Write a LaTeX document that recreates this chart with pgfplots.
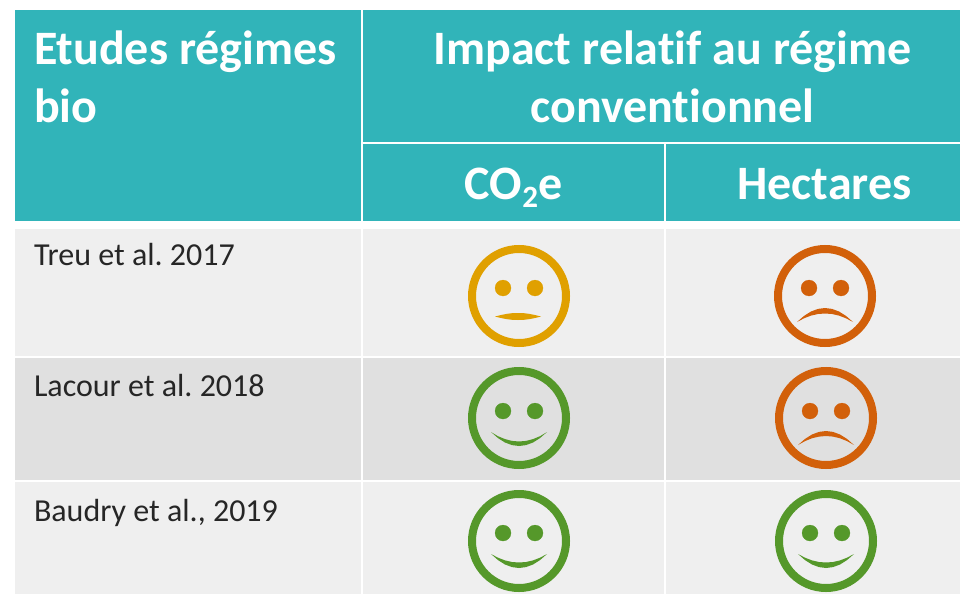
\documentclass[border=0pt]{standalone}
\usepackage{fontspec}
\setmainfont[Ligatures=NoCommon]{Carlito}
\usepackage{pgfplots}
\pgfplotsset{compat=1.18}
\definecolor{teal}{HTML}{31B4B9}
\definecolor{rowa}{HTML}{EFEFEF}
\definecolor{rowb}{HTML}{E0E0E0}
\definecolor{jaune}{HTML}{E0A000}
\definecolor{orange}{HTML}{D2600A}
\definecolor{vert}{HTML}{55982A}
\pgfplotsset{
  cell/.style={fill=#1, draw=none, mark=none, forget plot},
  ring/.style={only marks, mark=o, mark size=47pt, forget plot,
    mark options={draw=#1, line width=8pt, fill=none}},
  eyes/.style={only marks, mark=*, mark size=8pt, forget plot,
    mark options={draw=#1, line width=0.2pt, fill=#1}},
  mouth/.style={fill=#1, draw=none, mark=none, forget plot},
}
\tikzset{
  head/.style={inner sep=0pt, outer sep=0pt, text=white, anchor=base west,
    font=\fontsize{48}{48}\selectfont\bfseries},
  headc/.style={head, anchor=base},
  body/.style={inner sep=0pt, outer sep=0pt, text=black!85, anchor=base west,
    font=\fontsize{32}{32}\selectfont},
}
\begin{document}
\frenchspacing
\begin{tikzpicture}
\begin{axis}[
  width=960pt, height=594pt, scale only axis,
  xmin=0, xmax=960, ymin=0, ymax=594, y dir=reverse,
  hide axis, clip=true,
]
% fond
\addplot[cell=white] coordinates {(0,0) (960,0) (960,594) (0,594)} -- cycle;
% en-tete
\addplot[cell=teal] coordinates {(15,10) (361,10) (361,221) (15,221)} -- cycle;
\addplot[cell=teal] coordinates {(363,10) (960,10) (960,142) (363,142)} -- cycle;
\addplot[cell=teal] coordinates {(363,144) (664,144) (664,221) (363,221)} -- cycle;
\addplot[cell=teal] coordinates {(666,144) (960,144) (960,221) (666,221)} -- cycle;
% lignes
\addplot[cell=rowa] coordinates {(15,229) (361,229) (361,356) (15,356)} -- cycle;
\addplot[cell=rowa] coordinates {(363,229) (664,229) (664,356) (363,356)} -- cycle;
\addplot[cell=rowa] coordinates {(666,229) (960,229) (960,356) (666,356)} -- cycle;
\addplot[cell=rowb] coordinates {(15,358) (361,358) (361,480) (15,480)} -- cycle;
\addplot[cell=rowb] coordinates {(363,358) (664,358) (664,480) (363,480)} -- cycle;
\addplot[cell=rowb] coordinates {(666,358) (960,358) (960,480) (666,480)} -- cycle;
\addplot[cell=rowa] coordinates {(15,482) (361,482) (361,594) (15,594)} -- cycle;
\addplot[cell=rowa] coordinates {(363,482) (664,482) (664,594) (363,594)} -- cycle;
\addplot[cell=rowa] coordinates {(666,482) (960,482) (960,594) (666,594)} -- cycle;
% visages : contour
\addplot[ring=jaune] coordinates {(519,296)};
\addplot[ring=orange] coordinates {(825,296)};
\addplot[ring=vert] coordinates {(519,418)};
\addplot[ring=orange] coordinates {(826,418)};
\addplot[ring=vert] coordinates {(519,541)};
\addplot[ring=vert] coordinates {(826,541)};
% yeux
\addplot[eyes=jaune] coordinates {(503,288) (535,288)};
\addplot[eyes=orange] coordinates {(809,288) (841,288)};
\addplot[eyes=vert] coordinates {(503,411) (535,411)};
\addplot[eyes=orange] coordinates {(810,411) (842,411)};
\addplot[eyes=vert] coordinates {(503,533) (535,533)};
\addplot[eyes=vert] coordinates {(810,533) (842,533)};
% bouches
\addplot[mouth=jaune] coordinates {(495,316.5) (501,315) (506.5,313.9) (512,313.2) (518,313) (524,313.2) (529.5,313.9) (535,315) (541,316.5)
  (535,318) (529.5,319.1) (524,319.8) (518,320) (512,319.8) (506.5,319.1) (501,318)} -- cycle;
\addplot[mouth=orange] coordinates {(797,322) (804,315.9) (811,311.5) (818,308.9) (825,308) (832,308.9) (839,311.5) (846,315.9) (853,322)
  (846,318.3) (839,315.6) (832,314) (825,313.5) (818,314) (811,315.6) (804,318.3)} -- cycle;
\addplot[mouth=vert] coordinates {(491,432) (498,436.2) (505,439.1) (512,440.9) (519,441.5) (526,440.9) (533,439.1) (540,436.2) (547,432)
  (540,438.1) (533,442.5) (526,445.1) (519,446) (512,445.1) (505,442.5) (498,438.1)} -- cycle;
\addplot[mouth=orange] coordinates {(798,445) (805,438.9) (812,434.5) (819,431.9) (826,431) (833,431.9) (840,434.5) (847,438.9) (854,445)
  (847,441.1) (840,438.25) (833,436.6) (826,436) (819,436.6) (812,438.25) (805,441.1)} -- cycle;
\addplot[mouth=vert] coordinates {(491,554) (498,557.7) (505,560.4) (512,562) (519,562.5) (526,562) (533,560.4) (540,557.7) (547,554)
  (540,560.1) (533,564.5) (526,567.1) (519,568) (512,567.1) (505,564.5) (498,560.1)} -- cycle;
\addplot[mouth=vert] coordinates {(798,554) (805,557.7) (812,560.4) (819,562) (826,562.5) (833,562) (840,560.4) (847,557.7) (854,554)
  (847,560.1) (840,564.5) (833,567.1) (826,568) (819,567.1) (812,564.5) (805,560.1)} -- cycle;
% textes
\node[head] at (axis cs:34,64) {Etudes régimes};
\node[head] at (axis cs:34,122) {bio};
\node[headc] at (axis cs:672.5,64) {Impact relatif au régime};
\node[headc] at (axis cs:672.5,122) {conventionnel};
\node[headc] at (axis cs:513.5,199) {CO\raisebox{-8pt}{\fontsize{31}{31}\selectfont 2}e};
\node[headc] at (axis cs:824.5,199) {Hectares};
\node[body] at (axis cs:34,265) {Treu et al. 2017};
\node[body] at (axis cs:34,396) {Lacour et al. 2018};
\node[body] at (axis cs:34,521) {Baudry et al., 2019};
\end{axis}
\end{tikzpicture}
\end{document}
